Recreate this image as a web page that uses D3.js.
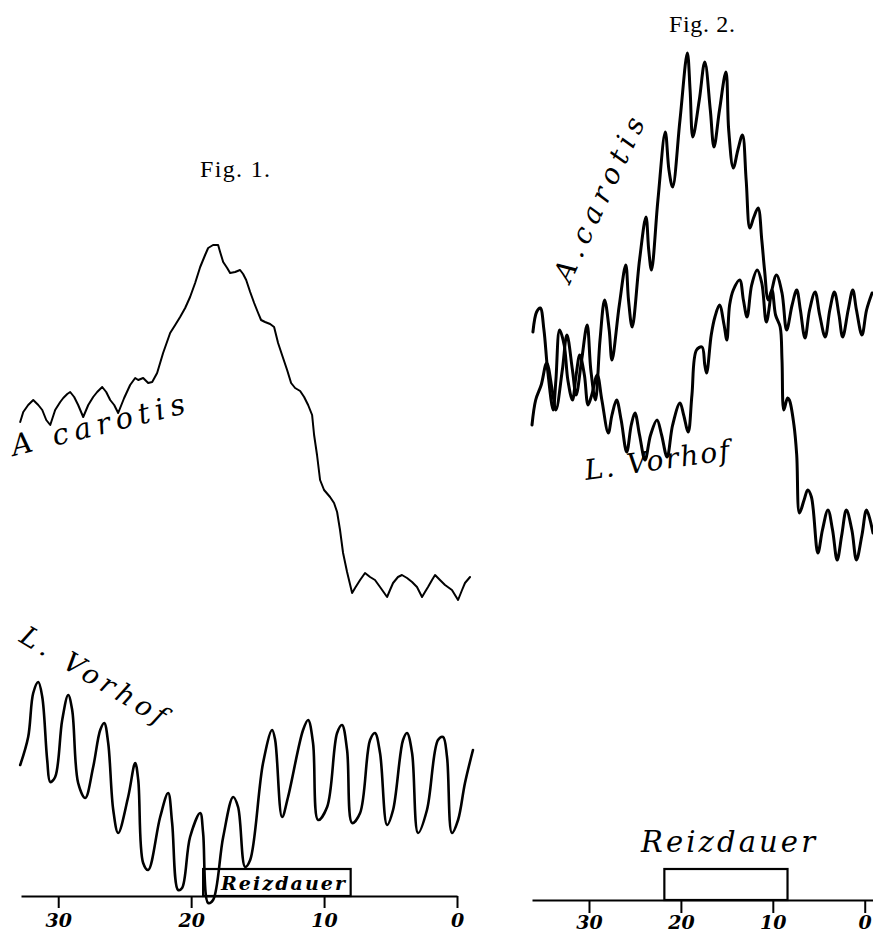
<!DOCTYPE html>
<html><head><meta charset="utf-8">
<script src="https://cdn.jsdelivr.net/npm/d3@7"></script>
<style>body{margin:0;background:#fff} svg{display:block}</style>
</head><body>
<svg id="c" width="873" height="937"></svg>
<script>
// ---------- DATA (time in s before end, deflection in arbitrary units above time line) ----------
const fig1Ticks = [30, 20, 10, 0];
const fig1AxisExtent = [32.8, 0];
const fig1Stimulus = [19.1, 8.0];
const fig1Carotis = [[32.86,474],[32.63,484],[32.26,491],[31.88,496],[31.50,491],[31.20,486],[30.90,476],[30.60,471],[30.23,486],[29.85,494],[29.62,498],[29.32,502],[29.10,504],[28.80,499],[28.50,491],[28.12,479],[27.74,491],[27.37,499],[27.07,504],[26.69,509],[26.39,504],[26.09,496],[25.79,491],[25.49,483],[25.04,498],[24.59,511],[24.21,518],[23.98,516],[23.61,518],[23.23,513],[22.93,514],[22.56,523],[22.11,543],[21.58,563],[21.20,571],[20.83,579],[20.45,588],[20.08,599],[19.70,613],[19.32,629],[18.95,641],[18.72,648],[18.35,651],[17.97,651],[17.82,644],[17.59,634],[17.29,628],[17.07,623],[16.69,624],[16.32,626],[16.09,622],[15.86,616],[15.56,604],[15.26,593],[14.96,583],[14.74,576],[14.44,574],[14.06,572],[13.76,569],[13.46,553],[13.16,541],[12.78,526],[12.48,513],[12.18,508],[11.80,505],[11.50,499],[11.20,491],[10.90,481],[10.75,461],[10.53,441],[10.30,416],[10.00,406],[9.55,399],[9.25,393],[9.02,384],[8.80,366],[8.57,343],[8.27,324],[7.89,303],[7.67,308],[7.29,316],[6.92,323],[6.54,319],[6.17,316],[5.79,309],[5.26,299],[5.04,306],[4.81,313],[4.44,319],[4.14,321],[3.76,318],[3.38,314],[3.01,309],[2.63,299],[2.41,304],[2.18,309],[1.88,316],[1.65,321],[1.28,316],[0.90,311],[0.38,306],[-0.08,296],[-0.38,306],[-0.60,313],[-0.98,319]];
const fig1Vorhof = [[32.86,131],[32.26,159],[31.88,203],[31.50,214],[31.20,199],[30.83,136],[30.60,114],[30.23,119],[29.70,176],[29.25,201],[28.95,186],[28.50,113],[27.97,98],[27.37,129],[26.84,166],[26.54,173],[26.24,153],[25.86,86],[25.49,63],[24.74,99],[24.21,133],[23.98,116],[23.61,33],[23.23,26],[22.33,79],[21.73,103],[21.43,73],[20.98,6],[20.68,8],[20.08,59],[19.32,83],[19.10,63],[18.72,-7],[18.35,-4],[17.59,59],[16.84,99],[16.47,89],[15.94,29],[15.56,36],[14.59,133],[13.91,166],[13.68,156],[13.16,79],[12.71,99],[11.58,166],[11.20,176],[10.83,153],[10.45,76],[9.77,89],[9.02,163],[8.65,171],[8.27,146],[7.89,73],[7.29,83],[6.54,156],[6.17,163],[5.79,143],[5.26,71],[4.81,86],[4.06,156],[3.76,163],[3.38,143],[2.93,63],[2.26,86],[1.43,156],[1.05,159],[0.75,139],[0.38,63],[-0.08,76],[-0.60,113],[-1.20,146]];

const fig2Ticks = [30, 20, 10, 0];
const fig2AxisExtent = [36.2, -0.9];
const fig2Stimulus = [21.8, 8.4];
const fig2Carotis = [[36.2,475],[35.8,500],[35.2,515],[34.6,537],[34.0,510],[33.6,490],[32.9,530],[32.4,565],[31.8,530],[31.4,505],[30.8,540],[30.2,575],[29.8,530],[29.3,500],[28.8,560],[28.3,600],[27.8,570],[27.5,540],[26.7,595],[26.0,635],[25.7,600],[25.3,573],[24.5,640],[23.8,683],[23.5,650],[23.2,630],[22.5,700],[21.7,768],[21.3,730],[20.9,713],[20.1,780],[19.3,847],[19.0,810],[18.7,763],[18.0,800],[17.4,838],[16.8,790],[16.4,753],[15.8,790],[15.1,828],[14.8,770],[14.3,732],[13.8,750],[13.3,765],[12.9,720],[12.5,672],[12.1,682],[11.6,692],[11.2,660],[10.9,630],[10.5,600],[10.1,610],[9.7,585],[9.2,573],[9.0,540],[8.8,490],[8.4,502],[8.2,500],[7.7,475],[7.4,445],[7.1,387],[6.6,400],[6.2,410],[5.8,403],[5.1,347],[4.6,370],[4.0,390],[3.5,370],[3.0,340],[2.5,365],[2.0,390],[1.4,370],[0.9,340],[0.3,365],[-0.2,390],[-0.9,367]];
const fig2Vorhof = [[36.1,568],[35.7,588],[35.3,592],[34.9,570],[34.5,530],[33.9,490],[33.6,520],[33.2,570],[32.7,555],[32.3,520],[31.8,500],[31.4,525],[31.0,545],[30.5,525],[30.1,495],[29.7,505],[29.1,525],[28.6,500],[27.9,467],[27.5,485],[27.0,500],[26.5,480],[25.9,448],[25.4,475],[25.0,487],[24.5,465],[23.9,440],[23.3,465],[22.6,480],[22.1,465],[21.5,443],[20.9,475],[20.1,497],[19.7,485],[19.2,468],[18.8,505],[18.3,550],[17.7,553],[17.4,535],[17.2,527],[16.7,565],[16.3,583],[15.8,595],[15.3,575],[15.0,560],[14.7,595],[14.3,610],[13.6,620],[13.2,600],[12.8,583],[12.3,615],[11.7,630],[11.2,617],[10.7,578],[10.1,610],[9.6,625],[9.0,607],[8.5,570],[7.9,595],[7.4,610],[7.0,590],[6.5,562],[6.0,590],[5.4,608],[4.9,585],[4.3,563],[3.8,590],[3.3,608],[2.8,585],[2.4,563],[1.8,590],[1.3,610],[0.9,590],[0.3,565],[-0.2,590],[-0.8,607]];

// ---------- DRAWING ----------
const svg = d3.select("#c");
const titleFont = "'Liberation Serif', 'DejaVu Serif', serif";
const labelFont = "'DejaVu Serif', 'Liberation Serif', serif";

function panel(opts) {
  const g = svg.append("g");
  const x = d3.scaleLinear().domain(opts.axisExtent).range(opts.xRange);
  const y = d3.scaleLinear().domain([0, 900]).range([opts.axisY, opts.axisY - 900]);

  const ax = g.append("g").attr("transform", `translate(0,${opts.axisY})`)
    .call(d3.axisBottom(x).tickValues(opts.ticks).tickSize(opts.tickSize)
      .tickSizeOuter(0).tickPadding(opts.tickPad).tickFormat(d3.format("d")));
  ax.select(".domain").attr("stroke", "#000").attr("stroke-width", 2.2);
  ax.selectAll(".tick line").attr("stroke", "#000").attr("stroke-width", 2);
  ax.selectAll(".tick text").attr("fill", "#000")
    .style("font-family", labelFont).style("font-style", "italic")
    .style("font-weight", "bold").style("font-size", "19px");

  g.append("rect")
    .attr("x", x(opts.stim[0])).attr("y", opts.axisY - opts.boxH)
    .attr("width", x(opts.stim[1]) - x(opts.stim[0])).attr("height", opts.boxH)
    .attr("fill", "none").attr("stroke", "#000").attr("stroke-width", 2.2);

  opts.traces.forEach(tr => {
    const line = d3.line().x(d => x(d[0])).y(d => y(d[1])).curve(tr.curve);
    g.append("path").datum(tr.data).attr("d", line)
      .attr("fill", "none").attr("stroke", "#000")
      .attr("stroke-width", tr.w).attr("stroke-linejoin", "round").attr("stroke-linecap", "round");
  });
  return {x, y, g};
}

panel({
  axisExtent: fig1AxisExtent, xRange: [21, 457], axisY: 896,
  ticks: fig1Ticks, tickSize: 12, tickPad: 6, stim: fig1Stimulus, boxH: 27,
  traces: [
    {data: fig1Carotis, curve: d3.curveLinear, w: 2},
    {data: fig1Vorhof, curve: d3.curveCatmullRom.alpha(0.5), w: 2.6}
  ]
});
panel({
  axisExtent: fig2AxisExtent, xRange: [532, 873], axisY: 900,
  ticks: fig2Ticks, tickSize: 13, tickPad: 3, stim: fig2Stimulus, boxH: 31,
  traces: [
    {data: fig2Carotis, curve: d3.curveCatmullRom.alpha(0.5), w: 3},
    {data: fig2Vorhof, curve: d3.curveCatmullRom.alpha(0.5), w: 3}
  ]
});

// ---------- TEXT ----------
function txt(str, tx, ty, rot, size, len, opts = {}) {
  const t = svg.append("text")
    .attr("transform", `translate(${tx},${ty}) rotate(${rot})`)
    .style("font-family", opts.family || labelFont)
    .style("font-style", opts.style || "italic")
    .style("font-weight", opts.weight || "normal")
    .style("font-size", size + "px")
    .attr("fill", "#000")
    .text(str);
  if (len) t.attr("textLength", len).attr("lengthAdjust", "spacing");
  if (opts.anchor) t.attr("text-anchor", opts.anchor);
  return t;
}

txt("Fig. 1.", 235, 177, 0, 24, 70, {style: "normal", anchor: "middle", family: titleFont});
txt("Fig. 2.", 702, 32, 0, 24, 66, {style: "normal", anchor: "middle", family: titleFont});

txt("A carotis", 14, 456, -14, 29, 178);
txt("L. Vorhof", 18, 641, 31, 27, 165);
txt("A.carotis", 570, 284, -65, 28, 178);
txt("L. Vorhof", 586, 480, -8, 28, 146);

txt("Reizdauer", 221, 890, 0, 19, 124, {weight: "bold"});
txt("Reizdauer", 641, 852, 0, 29, 174);
</script>
</body></html>
